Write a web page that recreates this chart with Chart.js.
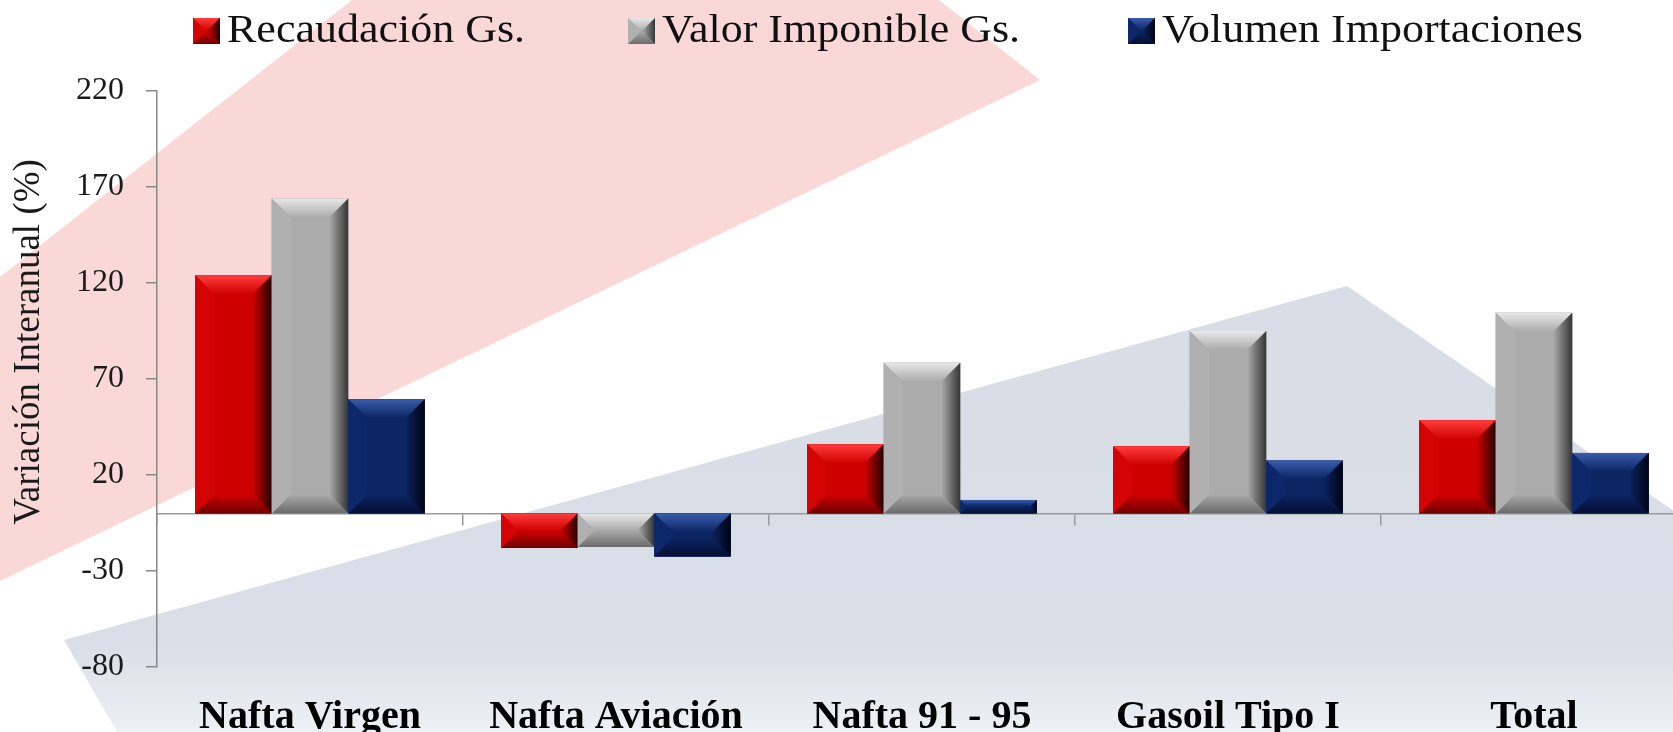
<!DOCTYPE html>
<html><head><meta charset="utf-8">
<script src="https://cdn.jsdelivr.net/npm/chart.js@4/dist/chart.umd.min.js"></script>
<style>
html,body{margin:0;padding:0;overflow:hidden;background:#fff;width:1673px;height:732px}
#wrap{position:absolute;left:0;top:0;width:1687px;height:732px}
</style>
</head><body><div id="wrap"><canvas id="c"></canvas></div>
<script>
const categories = ['Nafta Virgen', 'Nafta Aviación', 'Nafta 91 - 95', 'Gasoil Tipo I', 'Total'];
const recaudacion = [124, -18, 36, 35, 48.5];
const valorImponible = [164, -17.5, 78.5, 95, 104.5];
const volumen = [59.5, -22.5, 7, 27.5, 31.5];
const seriesNames = ['Recaudación Gs.', 'Valor Imponible Gs.', 'Volumen Importaciones'];
const yTicks = [-80, -30, 20, 70, 120, 170, 220];
const yTitle = 'Variación Interanual (%)';

const SERIF = "'Liberation Serif', 'Times New Roman', serif";
const palettes = [
  {base:'#cf0000', light:'#ff3c3c', dark:'#6e0000', left:'#d40404', right:'#250000'},
  {base:'#ababab', light:'#e8e8e8', dark:'#6a6a6a', left:'#b0b0b0', right:'#353535'},
  {base:'#0b2462', light:'#3a5cab', dark:'#050f34', left:'#0d286a', right:'#000311'}
];

function poly(c, pts, fill) {
  c.beginPath(); c.moveTo(pts[0][0], pts[0][1]);
  for (let i = 1; i < pts.length; i++) c.lineTo(pts[i][0], pts[i][1]);
  c.closePath(); c.fillStyle = fill; c.fill();
}
function bevel(c, L, T, R, B, p, bmax) {
  const w = R - L, h = B - T;
  const b = Math.max(0, Math.min(bmax, w / 2, h / 2));
  c.save();
  c.fillStyle = p.base; c.fillRect(L, T, w, h);
  let g = c.createLinearGradient(0, T, 0, T + b);
  g.addColorStop(0, p.light); g.addColorStop(1, p.base);
  poly(c, [[L, T], [R, T], [R - b, T + b], [L + b, T + b]], g);
  g = c.createLinearGradient(0, B - b, 0, B);
  g.addColorStop(0, p.base); g.addColorStop(1, p.dark);
  poly(c, [[L, B], [R, B], [R - b, B - b], [L + b, B - b]], g);
  poly(c, [[L, T], [L + b, T + b], [L + b, B - b], [L, B]], p.left);
  g = c.createLinearGradient(R - b, 0, R, 0);
  g.addColorStop(0, p.base); g.addColorStop(1, p.right);
  poly(c, [[R, T], [R - b, T + b], [R - b, B - b], [R, B]], g);
  c.restore();
}

const bgPlugin = {
  id: 'bg',
  beforeDraw(chart) {
    const c = chart.ctx;
    c.save();
    c.fillStyle = '#ffffff'; c.fillRect(0, 0, chart.width, chart.height);
    poly(c, [[352, 0], [939, 0], [1040, 80], [0, 581], [0, 277]], '#fbd8d8');
    const g = c.createLinearGradient(0, 0, 0, 732);
    g.addColorStop(0, '#d7dde6'); g.addColorStop(0.88, '#d9dee7'); g.addColorStop(1, '#eef0f4');
    poly(c, [[64, 640], [1347, 286], [1687, 520], [1687, 732], [117, 732]], g);
    c.restore();
  }
};

const bevelPlugin = {
  id: 'bevel',
  afterDatasetsDraw(chart) {
    const c = chart.ctx;
    chart.data.datasets.forEach((ds, i) => {
      const meta = chart.getDatasetMeta(i);
      meta.data.forEach(el => {
        const L = el.x - el.width / 2, R = el.x + el.width / 2;
        const T = Math.min(el.y, el.base), B = Math.max(el.y, el.base);
        bevel(c, L, T, R, B, palettes[i], 19);
      });
    });
  }
};

const legendStarts = [193, 628, 1128];
const textPlugin = {
  id: 'texts',
  afterDraw(chart) {
    const c = chart.ctx;
    chart.data.datasets.forEach((ds, i) => {
      const x = legendStarts[i];
      bevel(c, x, 18, x + 27, 44, palettes[i], 13);
      c.save();
      c.font = '40px ' + SERIF; c.fillStyle = '#111'; c.textBaseline = 'alphabetic';
      c.translate(x + 34, 42); c.scale(1.1, 1); c.fillText(ds.label, 0, 0);
      c.restore();
    });
    c.save();
    c.font = '37px ' + SERIF; c.fillStyle = '#1a1a1a';
    c.textAlign = 'center'; c.textBaseline = 'middle';
    c.translate(29, 342); c.rotate(-Math.PI / 2); c.fillText(yTitle, 0, 0);
    c.restore();
  }
};

const seriesData = [recaudacion, valorImponible, volumen];
new Chart(document.getElementById('c'), {
  type: 'bar',
  data: {
    labels: categories,
    datasets: seriesNames.map((n, i) => ({
      label: n, data: seriesData[i], backgroundColor: palettes[i].base, borderWidth: 0,
      xAxisID: 'x', yAxisID: 'y', categoryPercentage: 0.75, barPercentage: 1
    }))
  },
  options: {
    responsive: true, maintainAspectRatio: false, animation: false,
    layout: {padding: {top: 91, left: 0, right: 0, bottom: 0}},
    plugins: {legend: {display: false}, tooltip: {enabled: false}},
    scales: {
      x: {
        type: 'category', position: 'bottom', offset: true,
        grid: {display: false}, border: {display: false},
        ticks: {font: {family: SERIF, size: 40, weight: 'bold'}, color: '#000', padding: 19, maxRotation: 0, autoSkip: false},
        afterFit: s => { s.height = 65; }
      },
      x0: {
        type: 'category', axis: 'x', position: {y: 0}, offset: true,
        grid: {display: true, drawOnChartArea: false, drawTicks: true, tickLength: 11, color: '#999', lineWidth: 1.5, offset: true},
        border: {display: true, color: '#999', width: 1.5},
        ticks: {display: false}
      },
      y: {
        type: 'linear', position: 'left', min: -80, max: 220,
        afterBuildTicks: s => { s.ticks = yTicks.map(v => ({value: v})); },
        grid: {display: true, drawOnChartArea: false, drawTicks: true, tickLength: 11, color: '#888', lineWidth: 1.5},
        border: {display: true, color: '#888', width: 1.5},
        ticks: {font: {family: SERIF, size: 32}, color: '#1a1a1a', padding: 22},
        afterFit: s => { s.width = 157; }
      }
    }
  },
  plugins: [bgPlugin, bevelPlugin, textPlugin]
});
</script>
</body></html>
